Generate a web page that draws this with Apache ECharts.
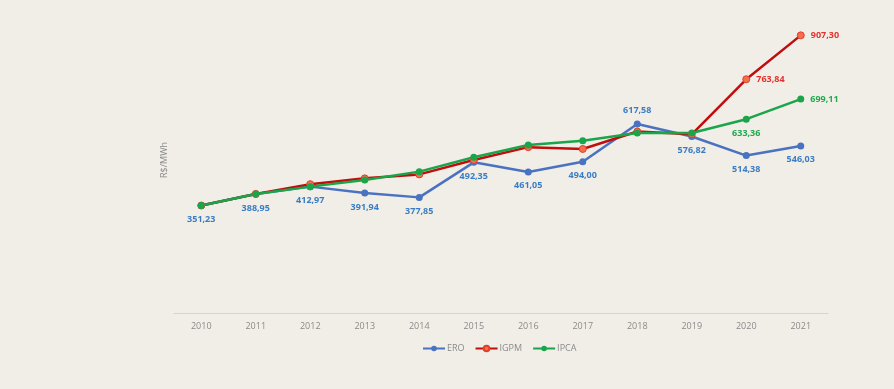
<!DOCTYPE html>
<html><head><meta charset="utf-8">
<script src="https://cdn.jsdelivr.net/npm/echarts@6/dist/echarts.min.js"></script>
<style>html,body{margin:0;padding:0;background:#f0eee7;}#c{width:894px;height:389px;}</style>
</head><body><div id="c"></div>
<script>
const years = ['2010','2011','2012','2013','2014','2015','2016','2017','2018','2019','2020','2021'];
const ero  = [351.23, 388.95, 412.97, 391.94, 377.85, 492.35, 461.05, 494.00, 617.58, 576.82, 514.38, 546.03];
const igpm = [351.23, 388.95, 421, 440, 453, 500, 542, 536, 593, 584, 763.84, 907.30];
const ipca = [351.23, 388.95, 412.97, 435, 462, 509, 549, 563, 588, 588, 633.36, 699.11];

const fmt = v => v.toFixed(2).replace('.', ',');
const font = 'Open Sans';

function build(values, color, labelMap) {
  return values.map((v, i) => {
    const lp = labelMap[i];
    return {
      value: v,
      label: lp ? { show: true, position: lp, distance: 6, color: color, fontSize: 9, fontWeight: 'bold', fontFamily: font, formatter: p => fmt(p.value) } : { show: false }
    };
  });
}
const eroPos = {0:'bottom',1:'bottom',2:'bottom',3:'bottom',4:'bottom',5:'bottom',6:'bottom',7:'bottom',8:'top',9:'bottom',10:'bottom',11:'bottom'};
const igpmPos = {10:'right',11:'right'};
const ipcaPos = {10:'bottom',11:'right'};

const chart = echarts.init(document.getElementById('c'));
chart.setOption({
  backgroundColor: '#f0eee7',
  animation: false,
  grid: { left: 174, right: 66, top: 7, bottom: 76 },
  xAxis: {
    type: 'category', data: years, boundaryGap: true,
    axisLine: { lineStyle: { color: '#d6d4cf', width: 1 } },
    axisTick: { show: false },
    axisLabel: { color: '#8a8a8a', fontSize: 9, fontFamily: font, margin: 9 }
  },
  yAxis: {
    type: 'value', min: 0, max: 1000,
    name: 'R$/MWh', nameLocation: 'middle', nameGap: 5, nameRotate: 90,
    nameTextStyle: { color: '#8a8a8a', fontSize: 9, fontFamily: font },
    axisLine: { show: false }, axisTick: { show: false }, axisLabel: { show: false }, splitLine: { show: false }
  },
  legend: {
    bottom: 31, left: 417, itemWidth: 22, itemHeight: 7, itemGap: 10,
    textStyle: { color: '#8a8a8a', fontSize: 9, fontFamily: font, padding: [0,0,0,-3] },
    data: ['ERO', 'IGPM', 'IPCA']
  },
  series: [
    { name: 'ERO', type: 'line', data: build(ero, '#3b7dc4', eroPos), symbol: 'circle', symbolSize: 7,
      lineStyle: { color: '#4a72c0', width: 2.5 }, itemStyle: { color: '#4a72c0' } },
    { name: 'IGPM', type: 'line', data: build(igpm, '#e8302c', igpmPos), symbol: 'circle', symbolSize: 7,
      lineStyle: { color: '#c00d0d', width: 2.5 }, itemStyle: { color: '#f5704a', borderColor: '#e33d2a', borderWidth: 1 } },
    { name: 'IPCA', type: 'line', data: build(ipca, '#22a84e', ipcaPos), symbol: 'circle', symbolSize: 7,
      lineStyle: { color: '#1aa54a', width: 2.5 }, itemStyle: { color: '#1aa54a' } }
  ]
});
</script></body></html>
